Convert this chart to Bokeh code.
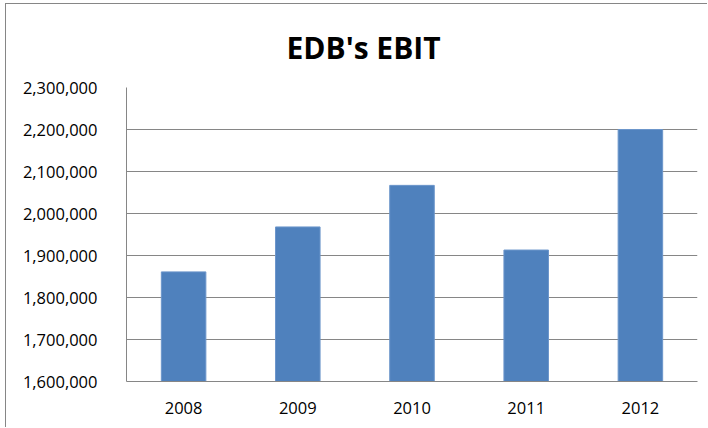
from bokeh.plotting import figure
from bokeh.models import (ColumnDataSource, FactorRange, Range1d, FixedTicker,
                          NumeralTickFormatter)
from bokeh.embed import file_html
from bokeh.resources import INLINE

# EBIT by year
years = ["2008", "2009", "2010", "2011", "2012"]
ebit = [1861000, 1968000, 2067000, 1913000, 2200000]
y_ticks = [1600000, 1700000, 1800000, 1900000, 2000000, 2100000, 2200000, 2300000]

FONT = "Open Sans"
GREY = "#868686"
BAR = "#4F81BD"

source = ColumnDataSource(data=dict(year=years, ebit=ebit))

# the chart area sits 5px in from the left and 3px down from the top,
# framed on those two sides by a thin grey line
p = figure(
    width=702, height=424,
    x_range=FactorRange(*years, range_padding=0),
    y_range=Range1d(y_ticks[0], y_ticks[-1]),
    output_backend="svg", toolbar_location=None,
    min_border_left=120, min_border_right=11,
    min_border_top=83, min_border_bottom=47,
    title="EDB's EBIT",
    styles={"border-left": f"1px solid {GREY}", "border-top": f"1px solid {GREY}",
            "margin-left": "5px", "margin-top": "3px"},
)

p.vbar(x="year", top="ebit", bottom=y_ticks[0], width=0.39, source=source,
       fill_color=BAR, line_color="#6C96CB", line_width=1)

# title
p.title.text_font = FONT
p.title.text_font_size = "30px"
p.title.text_font_style = "bold"
p.title.text_color = "black"
p.title.align = "left"
p.title.offset = 160
p.title.standoff = 40

# y axis
p.yaxis.ticker = FixedTicker(ticks=y_ticks)
p.yaxis.formatter = NumeralTickFormatter(format="0,0")
p.yaxis.major_label_text_font = FONT
p.yaxis.major_label_text_font_size = "16.5px"
p.yaxis.major_label_text_color = "black"
p.yaxis.major_label_standoff = 23
p.yaxis.major_tick_line_color = None
p.yaxis.minor_tick_line_color = None
p.yaxis.axis_line_color = GREY

# x axis
p.xaxis.major_label_text_font = FONT
p.xaxis.major_label_text_font_size = "16.5px"
p.xaxis.major_label_text_color = "black"
p.xaxis.major_label_standoff = 14
p.xaxis.major_tick_line_color = None
p.xaxis.minor_tick_line_color = None
p.xaxis.axis_line_color = GREY

p.xgrid.grid_line_color = None
p.ygrid.grid_line_color = GREY
p.ygrid.grid_line_width = 1

p.outline_line_color = None
p.background_fill_color = "white"
p.border_fill_color = "white"

open("out.html", "w").write(file_html(p, INLINE))
